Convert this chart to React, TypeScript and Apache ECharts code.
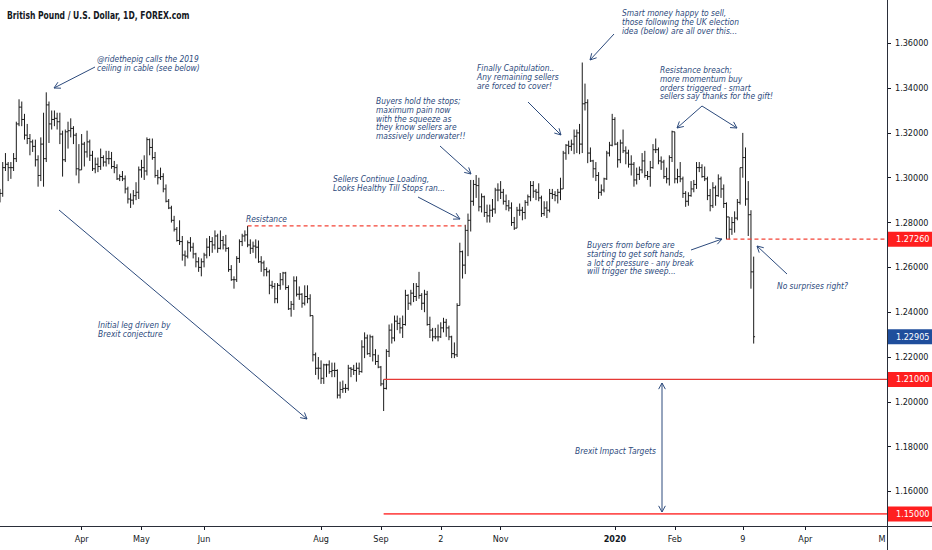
import React, { useEffect, useRef } from "react";
import * as echarts from "echarts";

// ---------- DATA (daily OHLC, GBP/USD) ----------
type Bar = [string, number, number, number, number];

const feb19: Bar[] = [
  ["2019-02-18", 1.29, 1.295, 1.289, 1.293],
  ["2019-02-19", 1.293, 1.307, 1.2915, 1.3045],
  ["2019-02-20", 1.3045, 1.311, 1.303, 1.306],
  ["2019-02-21", 1.306, 1.307, 1.2985, 1.3045],
  ["2019-02-22", 1.3045, 1.307, 1.2995, 1.3045],
  ["2019-02-25", 1.3045, 1.311, 1.303, 1.3085],
  ["2019-02-26", 1.3085, 1.325, 1.307, 1.324],
  ["2019-02-27", 1.324, 1.335, 1.323, 1.3315],
  ["2019-02-28", 1.3315, 1.334, 1.323, 1.326],
];
const mar19: Bar[] = [
  ["2019-03-01", 1.326, 1.3285, 1.317, 1.319],
  ["2019-03-04", 1.319, 1.324, 1.315, 1.3175],
  ["2019-03-05", 1.3175, 1.3195, 1.31, 1.316],
  ["2019-03-06", 1.316, 1.317, 1.3115, 1.314],
  ["2019-03-07", 1.314, 1.317, 1.305, 1.308],
  ["2019-03-08", 1.308, 1.31, 1.296, 1.301],
  ["2019-03-11", 1.301, 1.318, 1.2985, 1.315],
  ["2019-03-12", 1.315, 1.329, 1.296, 1.3085],
  ["2019-03-13", 1.3085, 1.3381, 1.307, 1.3325],
  ["2019-03-14", 1.3325, 1.334, 1.3155, 1.324],
  ["2019-03-15", 1.324, 1.33, 1.3215, 1.326],
  ["2019-03-18", 1.326, 1.33, 1.323, 1.3265],
  ["2019-03-19", 1.3265, 1.329, 1.3215, 1.325],
  ["2019-03-20", 1.325, 1.329, 1.315, 1.3195],
  ["2019-03-21", 1.3195, 1.321, 1.3005, 1.308],
  ["2019-03-22", 1.308, 1.3215, 1.307, 1.3205],
  ["2019-03-25", 1.3205, 1.325, 1.313, 1.321],
  ["2019-03-26", 1.321, 1.3265, 1.318, 1.322],
  ["2019-03-27", 1.322, 1.323, 1.315, 1.319],
  ["2019-03-28", 1.319, 1.32, 1.301, 1.304],
  ["2019-03-29", 1.304, 1.315, 1.2975, 1.3035],
];
const apr19: Bar[] = [
  ["2019-04-01", 1.3035, 1.3195, 1.3035, 1.315],
  ["2019-04-02", 1.315, 1.316, 1.305, 1.3115],
  ["2019-04-03", 1.3115, 1.321, 1.309, 1.316],
  ["2019-04-04", 1.316, 1.317, 1.3075, 1.31],
  ["2019-04-05", 1.31, 1.312, 1.303, 1.304],
  ["2019-04-08", 1.304, 1.309, 1.302, 1.306],
  ["2019-04-09", 1.306, 1.309, 1.3025, 1.305],
  ["2019-04-10", 1.305, 1.313, 1.3035, 1.309],
  ["2019-04-11", 1.309, 1.31, 1.305, 1.307],
  ["2019-04-12", 1.307, 1.312, 1.305, 1.3085],
  ["2019-04-15", 1.3085, 1.312, 1.306, 1.3085],
  ["2019-04-16", 1.3085, 1.3115, 1.304, 1.305],
  ["2019-04-17", 1.305, 1.3075, 1.302, 1.3045],
  ["2019-04-18", 1.3045, 1.306, 1.299, 1.2995],
  ["2019-04-19", 1.2995, 1.3015, 1.2985, 1.3005],
  ["2019-04-22", 1.3005, 1.303, 1.2985, 1.2995],
  ["2019-04-23", 1.2995, 1.301, 1.293, 1.295],
  ["2019-04-24", 1.295, 1.296, 1.2885, 1.2905],
  ["2019-04-25", 1.2905, 1.293, 1.2865, 1.29],
  ["2019-04-26", 1.29, 1.2945, 1.288, 1.292],
  ["2019-04-29", 1.292, 1.298, 1.29, 1.2935],
  ["2019-04-30", 1.2935, 1.305, 1.2905, 1.3035],
];
const may19: Bar[] = [
  ["2019-05-01", 1.3035, 1.308, 1.3, 1.3045],
  ["2019-05-02", 1.3045, 1.31, 1.299, 1.303],
  ["2019-05-03", 1.303, 1.318, 1.301, 1.317],
  ["2019-05-06", 1.317, 1.3175, 1.31, 1.3135],
  ["2019-05-07", 1.3135, 1.3175, 1.308, 1.309],
  ["2019-05-08", 1.309, 1.3115, 1.3, 1.301],
  ["2019-05-09", 1.301, 1.3035, 1.297, 1.3],
  ["2019-05-10", 1.3, 1.3045, 1.299, 1.3005],
  ["2019-05-13", 1.3005, 1.302, 1.2935, 1.295],
  ["2019-05-14", 1.295, 1.297, 1.289, 1.2895],
  ["2019-05-15", 1.2895, 1.2905, 1.286, 1.2865],
  ["2019-05-16", 1.2865, 1.2875, 1.28, 1.281],
  ["2019-05-17", 1.281, 1.283, 1.276, 1.277],
  ["2019-05-20", 1.277, 1.278, 1.2715, 1.272],
  ["2019-05-21", 1.272, 1.281, 1.27, 1.2715],
  ["2019-05-22", 1.2715, 1.274, 1.263, 1.2655],
  ["2019-05-23", 1.2655, 1.2675, 1.2605, 1.265],
  ["2019-05-24", 1.265, 1.272, 1.264, 1.271],
  ["2019-05-27", 1.271, 1.2735, 1.267, 1.269],
  ["2019-05-28", 1.269, 1.271, 1.264, 1.266],
  ["2019-05-29", 1.266, 1.2665, 1.26, 1.2625],
  ["2019-05-30", 1.2625, 1.2645, 1.258, 1.26],
  ["2019-05-31", 1.26, 1.264, 1.256, 1.2625],
];
const jun19: Bar[] = [
  ["2019-06-03", 1.2625, 1.2665, 1.26, 1.2655],
  ["2019-06-04", 1.2655, 1.273, 1.264, 1.269],
  ["2019-06-05", 1.269, 1.274, 1.265, 1.2715],
  ["2019-06-06", 1.2715, 1.2735, 1.2665, 1.27],
  ["2019-06-07", 1.27, 1.2765, 1.268, 1.274],
  ["2019-06-10", 1.274, 1.275, 1.2665, 1.2685],
  ["2019-06-11", 1.2685, 1.2765, 1.268, 1.272],
  ["2019-06-12", 1.272, 1.274, 1.268, 1.27],
  ["2019-06-13", 1.27, 1.2745, 1.267, 1.2685],
  ["2019-06-14", 1.2685, 1.269, 1.258, 1.259],
  ["2019-06-17", 1.259, 1.261, 1.254, 1.2545],
  ["2019-06-18", 1.2545, 1.256, 1.2505, 1.2545],
  ["2019-06-19", 1.2545, 1.265, 1.2535, 1.264],
  ["2019-06-20", 1.264, 1.2725, 1.262, 1.2715],
  ["2019-06-21", 1.2715, 1.275, 1.2695, 1.274],
  ["2019-06-24", 1.274, 1.2765, 1.2715, 1.2745],
  ["2019-06-25", 1.2745, 1.2785, 1.269, 1.27],
  ["2019-06-26", 1.27, 1.2725, 1.266, 1.2685],
  ["2019-06-27", 1.2685, 1.2715, 1.2665, 1.2695],
  ["2019-06-28", 1.2695, 1.2725, 1.264, 1.269],
];
const jul19: Bar[] = [
  ["2019-07-01", 1.269, 1.272, 1.262, 1.2625],
  ["2019-07-02", 1.2625, 1.265, 1.258, 1.262],
  ["2019-07-03", 1.262, 1.263, 1.256, 1.259],
  ["2019-07-04", 1.259, 1.26, 1.256, 1.258],
  ["2019-07-05", 1.258, 1.259, 1.248, 1.252],
  ["2019-07-08", 1.252, 1.254, 1.2505, 1.2515],
  ["2019-07-09", 1.2515, 1.253, 1.244, 1.246],
  ["2019-07-10", 1.246, 1.253, 1.244, 1.252],
  ["2019-07-11", 1.252, 1.2575, 1.25, 1.2545],
  ["2019-07-12", 1.2545, 1.258, 1.252, 1.2575],
  ["2019-07-15", 1.2575, 1.258, 1.25, 1.251],
  ["2019-07-16", 1.251, 1.252, 1.241, 1.2415],
  ["2019-07-17", 1.2415, 1.245, 1.238, 1.2435],
  ["2019-07-18", 1.2435, 1.256, 1.241, 1.254],
  ["2019-07-19", 1.254, 1.256, 1.247, 1.248],
  ["2019-07-22", 1.248, 1.2515, 1.2455, 1.248],
  ["2019-07-23", 1.248, 1.2485, 1.242, 1.244],
  ["2019-07-24", 1.244, 1.252, 1.243, 1.247],
  ["2019-07-25", 1.247, 1.252, 1.244, 1.246],
  ["2019-07-26", 1.246, 1.248, 1.238, 1.2385],
  ["2019-07-29", 1.2385, 1.2385, 1.218, 1.221],
  ["2019-07-30", 1.221, 1.222, 1.212, 1.215],
  ["2019-07-31", 1.215, 1.22, 1.21, 1.215],
];
const aug19: Bar[] = [
  ["2019-08-01", 1.215, 1.2185, 1.208, 1.2105],
  ["2019-08-02", 1.2105, 1.217, 1.208, 1.2165],
  ["2019-08-05", 1.2165, 1.217, 1.211, 1.2165],
  ["2019-08-06", 1.2165, 1.2185, 1.2125, 1.2135],
  ["2019-08-07", 1.2135, 1.2175, 1.211, 1.214],
  ["2019-08-08", 1.214, 1.2175, 1.211, 1.214],
  ["2019-08-09", 1.214, 1.2145, 1.2015, 1.203],
  ["2019-08-12", 1.203, 1.209, 1.2015, 1.2055],
  ["2019-08-13", 1.2055, 1.2095, 1.204, 1.206],
  ["2019-08-14", 1.206, 1.208, 1.204, 1.206],
  ["2019-08-15", 1.206, 1.2165, 1.205, 1.215],
  ["2019-08-16", 1.215, 1.2155, 1.211, 1.2145],
  ["2019-08-19", 1.2145, 1.2165, 1.212, 1.214],
  ["2019-08-20", 1.214, 1.2175, 1.209, 1.215],
  ["2019-08-21", 1.215, 1.2175, 1.212, 1.2135],
  ["2019-08-22", 1.2135, 1.2275, 1.213, 1.2245],
  ["2019-08-23", 1.2245, 1.231, 1.2195, 1.2285],
  ["2019-08-26", 1.2285, 1.23, 1.221, 1.2215],
  ["2019-08-27", 1.2215, 1.23, 1.22, 1.229],
  ["2019-08-28", 1.229, 1.2295, 1.218, 1.221],
  ["2019-08-29", 1.221, 1.2235, 1.2165, 1.218],
  ["2019-08-30", 1.218, 1.221, 1.215, 1.2155],
];
const sep19: Bar[] = [
  ["2019-09-02", 1.2155, 1.216, 1.207, 1.208],
  ["2019-09-03", 1.208, 1.21, 1.1959, 1.206],
  ["2019-09-04", 1.206, 1.2235, 1.2055, 1.2225],
  ["2019-09-05", 1.2225, 1.2345, 1.22, 1.232],
  ["2019-09-06", 1.232, 1.235, 1.226, 1.2285],
  ["2019-09-09", 1.2285, 1.2385, 1.227, 1.236],
  ["2019-09-10", 1.236, 1.2385, 1.232, 1.235],
  ["2019-09-11", 1.235, 1.2375, 1.2305, 1.233],
  ["2019-09-12", 1.233, 1.2385, 1.2285, 1.2345],
  ["2019-09-13", 1.2345, 1.25, 1.234, 1.2475],
  ["2019-09-16", 1.2475, 1.248, 1.241, 1.244],
  ["2019-09-17", 1.244, 1.25, 1.243, 1.2485],
  ["2019-09-18", 1.2485, 1.253, 1.2445, 1.247],
  ["2019-09-19", 1.247, 1.253, 1.245, 1.2515],
  ["2019-09-20", 1.2515, 1.258, 1.246, 1.2475],
  ["2019-09-23", 1.2475, 1.2485, 1.241, 1.244],
  ["2019-09-24", 1.244, 1.25, 1.24, 1.248],
  ["2019-09-25", 1.248, 1.2495, 1.234, 1.2345],
  ["2019-09-26", 1.2345, 1.238, 1.2285, 1.232],
  ["2019-09-27", 1.232, 1.233, 1.227, 1.229],
  ["2019-09-30", 1.229, 1.233, 1.228, 1.229],
];
const oct19: Bar[] = [
  ["2019-10-01", 1.229, 1.2345, 1.227, 1.229],
  ["2019-10-02", 1.229, 1.2355, 1.2285, 1.233],
  ["2019-10-03", 1.233, 1.2375, 1.231, 1.2355],
  ["2019-10-04", 1.2355, 1.237, 1.229, 1.233],
  ["2019-10-07", 1.233, 1.234, 1.2275, 1.229],
  ["2019-10-08", 1.229, 1.2295, 1.2195, 1.2215],
  ["2019-10-09", 1.2215, 1.2265, 1.2195, 1.221],
  ["2019-10-10", 1.221, 1.244, 1.22, 1.243],
  ["2019-10-11", 1.243, 1.271, 1.243, 1.267],
  ["2019-10-14", 1.267, 1.2675, 1.255, 1.261],
  ["2019-10-15", 1.261, 1.279, 1.257, 1.2765],
  ["2019-10-16", 1.2765, 1.284, 1.265, 1.281],
  ["2019-10-17", 1.281, 1.299, 1.276, 1.2895],
  ["2019-10-18", 1.2895, 1.299, 1.2875, 1.297],
  ["2019-10-21", 1.297, 1.3012, 1.291, 1.2965],
  ["2019-10-22", 1.2965, 1.3, 1.285, 1.287],
  ["2019-10-23", 1.287, 1.293, 1.2845, 1.2915],
  ["2019-10-24", 1.2915, 1.292, 1.2825, 1.2845],
  ["2019-10-25", 1.2845, 1.288, 1.28, 1.283],
  ["2019-10-28", 1.283, 1.288, 1.28, 1.2855],
  ["2019-10-29", 1.2855, 1.2905, 1.2825, 1.286],
  ["2019-10-30", 1.286, 1.2955, 1.284, 1.2945],
  ["2019-10-31", 1.2945, 1.2975, 1.2895, 1.2945],
];
const nov19: Bar[] = [
  ["2019-11-01", 1.2945, 1.2985, 1.2905, 1.2935],
  ["2019-11-04", 1.2935, 1.295, 1.288, 1.2895],
  ["2019-11-05", 1.2895, 1.2925, 1.2855, 1.2875],
  ["2019-11-06", 1.2875, 1.29, 1.285, 1.2865],
  ["2019-11-07", 1.2865, 1.289, 1.2785, 1.28],
  ["2019-11-08", 1.28, 1.2825, 1.2767, 1.2775],
  ["2019-11-11", 1.2775, 1.287, 1.2775, 1.2855],
  ["2019-11-12", 1.2855, 1.2885, 1.283, 1.2855],
  ["2019-11-13", 1.2855, 1.287, 1.281, 1.2845],
  ["2019-11-14", 1.2845, 1.29, 1.2815, 1.289],
  ["2019-11-15", 1.289, 1.2925, 1.2875, 1.2915],
  ["2019-11-18", 1.2915, 1.2985, 1.2895, 1.2965],
  ["2019-11-19", 1.2965, 1.2985, 1.291, 1.294],
  ["2019-11-20", 1.294, 1.295, 1.29, 1.2935],
  ["2019-11-21", 1.2935, 1.2975, 1.2895, 1.291],
  ["2019-11-22", 1.291, 1.292, 1.2825, 1.284],
  ["2019-11-25", 1.284, 1.2895, 1.283, 1.2865],
  ["2019-11-26", 1.2865, 1.2895, 1.282, 1.2855],
  ["2019-11-27", 1.2855, 1.295, 1.2845, 1.293],
  ["2019-11-28", 1.293, 1.295, 1.2905, 1.2925],
  ["2019-11-29", 1.2925, 1.294, 1.2895, 1.292],
];
const dec19: Bar[] = [
  ["2019-12-02", 1.292, 1.295, 1.2885, 1.2935],
  ["2019-12-03", 1.2935, 1.3, 1.29, 1.295],
  ["2019-12-04", 1.295, 1.312, 1.295, 1.311],
  ["2019-12-05", 1.311, 1.315, 1.308, 1.3145],
  ["2019-12-06", 1.3145, 1.3165, 1.3105, 1.314],
  ["2019-12-09", 1.314, 1.317, 1.312, 1.315],
  ["2019-12-10", 1.315, 1.3215, 1.3105, 1.3185],
  ["2019-12-11", 1.3185, 1.3215, 1.311, 1.32],
  ["2019-12-12", 1.32, 1.324, 1.3105, 1.315],
  ["2019-12-13", 1.315, 1.3514, 1.311, 1.333],
  ["2019-12-16", 1.333, 1.342, 1.33, 1.3335],
  ["2019-12-17", 1.3335, 1.335, 1.3065, 1.311],
  ["2019-12-18", 1.311, 1.3135, 1.307, 1.3075],
  ["2019-12-19", 1.3075, 1.308, 1.3, 1.304],
  ["2019-12-20", 1.304, 1.307, 1.2985, 1.301],
  ["2019-12-23", 1.301, 1.3025, 1.2905, 1.2935],
  ["2019-12-24", 1.2935, 1.297, 1.292, 1.2945],
  ["2019-12-26", 1.2945, 1.3, 1.2935, 1.2995],
  ["2019-12-27", 1.2995, 1.312, 1.299, 1.311],
  ["2019-12-30", 1.311, 1.316, 1.3095, 1.3145],
  ["2019-12-31", 1.3145, 1.3285, 1.314, 1.326],
];
const jan20: Bar[] = [
  ["2020-01-02", 1.326, 1.327, 1.3145, 1.315],
  ["2020-01-03", 1.315, 1.316, 1.3045, 1.308],
  ["2020-01-06", 1.308, 1.317, 1.3065, 1.3155],
  ["2020-01-07", 1.3155, 1.3215, 1.311, 1.312],
  ["2020-01-08", 1.312, 1.314, 1.306, 1.311],
  ["2020-01-09", 1.311, 1.3125, 1.3045, 1.306],
  ["2020-01-10", 1.306, 1.31, 1.301, 1.306],
  ["2020-01-13", 1.306, 1.307, 1.296, 1.299],
  ["2020-01-14", 1.299, 1.3045, 1.297, 1.3015],
  ["2020-01-15", 1.3015, 1.305, 1.299, 1.3035],
  ["2020-01-16", 1.3035, 1.311, 1.302, 1.3075],
  ["2020-01-17", 1.3075, 1.312, 1.3, 1.301],
  ["2020-01-20", 1.301, 1.303, 1.299, 1.3005],
  ["2020-01-21", 1.3005, 1.3075, 1.296, 1.3045],
  ["2020-01-22", 1.3045, 1.315, 1.304, 1.3125],
  ["2020-01-23", 1.3125, 1.3175, 1.311, 1.3125],
  ["2020-01-24", 1.3125, 1.3135, 1.306, 1.3075],
  ["2020-01-27", 1.3075, 1.3095, 1.3035, 1.307],
  ["2020-01-28", 1.307, 1.308, 1.2995, 1.3005],
  ["2020-01-29", 1.3005, 1.3045, 1.2975, 1.2995],
  ["2020-01-30", 1.2995, 1.31, 1.2965, 1.309],
  ["2020-01-31", 1.309, 1.321, 1.307, 1.3205],
];
const feb20: Bar[] = [
  ["2020-02-03", 1.3205, 1.3205, 1.2975, 1.2995],
  ["2020-02-04", 1.2995, 1.304, 1.2975, 1.3005],
  ["2020-02-05", 1.3005, 1.307, 1.298, 1.2995],
  ["2020-02-06", 1.2995, 1.3005, 1.291, 1.293],
  ["2020-02-07", 1.293, 1.294, 1.287, 1.2895],
  ["2020-02-10", 1.2895, 1.2935, 1.2875, 1.292],
  ["2020-02-11", 1.292, 1.2985, 1.2915, 1.295],
  ["2020-02-12", 1.295, 1.299, 1.2935, 1.297],
  ["2020-02-13", 1.297, 1.307, 1.295, 1.3045],
  ["2020-02-14", 1.3045, 1.307, 1.3025, 1.3045],
  ["2020-02-17", 1.3045, 1.306, 1.3, 1.3005],
  ["2020-02-18", 1.3005, 1.305, 1.2985, 1.2995],
  ["2020-02-19", 1.2995, 1.3005, 1.29, 1.292],
  ["2020-02-20", 1.292, 1.295, 1.285, 1.2875],
  ["2020-02-21", 1.2875, 1.298, 1.2865, 1.2955],
  ["2020-02-24", 1.2955, 1.2965, 1.2875, 1.292],
  ["2020-02-25", 1.292, 1.3015, 1.2915, 1.2995],
  ["2020-02-26", 1.2995, 1.3005, 1.291, 1.295],
  ["2020-02-27", 1.295, 1.297, 1.2865, 1.2885],
  ["2020-02-28", 1.2885, 1.289, 1.2725, 1.2825],
];
const mar20: Bar[] = [
  ["2020-03-02", 1.2825, 1.2825, 1.2725, 1.277],
  ["2020-03-03", 1.277, 1.2825, 1.2745, 1.28],
  ["2020-03-04", 1.28, 1.285, 1.2755, 1.282],
  ["2020-03-05", 1.282, 1.2905, 1.281, 1.289],
  ["2020-03-06", 1.289, 1.3045, 1.288, 1.3045],
  ["2020-03-09", 1.3045, 1.32, 1.3, 1.309],
  ["2020-03-10", 1.309, 1.3135, 1.2875, 1.2905],
  ["2020-03-11", 1.2905, 1.2985, 1.274, 1.2835],
  ["2020-03-12", 1.2835, 1.2855, 1.2505, 1.258],
  ["2020-03-13", 1.258, 1.2648, 1.226, 1.22905],
];

const bars: Bar[] = [
  ...feb19, ...mar19, ...apr19, ...may19, ...jun19, ...jul19, ...aug19,
  ...sep19, ...oct19, ...nov19, ...dec19, ...jan20, ...feb20, ...mar20,
];

// time-scale labels (TradingView style)
const timeTickDates = [
  "2019-04-01", "2019-05-01", "2019-06-03", "2019-08-01", "2019-09-02", "2019-10-02",
  "2019-11-01", "2020-01-02", "2020-02-03", "2020-03-09", "2020-04-01", "2020-05-01",
];
const timeTickLabels = ["Apr", "May", "Jun", "Aug", "Sep", "2", "Nov", "2020", "Feb", "9", "Apr", "M"];

// price-scale labels
const priceTicks = [1.16, 1.18, 1.2, 1.22, 1.24, 1.26, 1.28, 1.3, 1.32, 1.34, 1.36];

// levels drawn on the chart
const resistanceLevel = 1.2785;
const resistanceFrom = "2019-06-25";
const resistanceTo = "2019-10-15";
const breakLevel = 1.2726;
const breakFrom = "2020-02-28";
const target1 = 1.21;
const target2 = 1.15;
const targetsFrom = "2019-09-03";
const lastClose = 1.22905;

const Y_MIN = 1.1446;
const Y_MAX = 1.3793;
const FUTURE_END = "2020-05-01";

// ---------- helpers ----------
const FONT = "'DejaVu Sans Condensed', 'DejaVu Sans', sans-serif";
const INK = "#131722";
const NOTE = "#2c4a7c";
const BAR = "#1a1a1a";
const NOTE_SCALE = 0.93;

function buildCategories(): string[] {
  const cats = bars.map((b) => b[0]);
  const last = new Date(bars[bars.length - 1][0] + "T00:00:00Z");
  const end = new Date(FUTURE_END + "T00:00:00Z");
  const d = new Date(last.getTime());
  while (d < end) {
    d.setUTCDate(d.getUTCDate() + 1);
    cats.push(d.toISOString().slice(0, 10));
  }
  return cats;
}

function arrow(x1: number, y1: number, x2: number, y2: number, both = false): any[] {
  const head = 7;
  const spread = 0.5;
  const mk = (ax: number, ay: number, bx: number, by: number) => {
    const a = Math.atan2(by - ay, bx - ax);
    return {
      type: "polyline",
      shape: {
        points: [
          [bx - head * Math.cos(a - spread), by - head * Math.sin(a - spread)],
          [bx, by],
          [bx - head * Math.cos(a + spread), by - head * Math.sin(a + spread)],
        ],
      },
      style: { stroke: NOTE, lineWidth: 1, fill: null },
      z: 50,
    };
  };
  const els: any[] = [
    { type: "line", shape: { x1, y1, x2, y2 }, style: { stroke: NOTE, lineWidth: 1 }, z: 50 },
    mk(x1, y1, x2, y2),
  ];
  if (both) els.push(mk(x2, y2, x1, y1));
  return els;
}

function note(text: string, x: number, firstCenter: number): any {
  return {
    type: "text",
    x,
    y: firstCenter - 4.4,
    scaleX: NOTE_SCALE,
    z: 50,
    style: {
      text,
      fill: NOTE,
      fontSize: 9,
      fontStyle: "italic",
      fontFamily: FONT,
      lineHeight: 8.8,
      align: "left",
      verticalAlign: "top",
    },
  };
}

export default function App() {
  const ref = useRef<HTMLDivElement>(null);

  useEffect(() => {
    document.body.style.margin = "0";
    if (!ref.current) return;
    const chart = echarts.init(ref.current, undefined, { renderer: "svg" });
    const categories = buildCategories();
    const tickMap: Record<string, string> = {};
    timeTickDates.forEach((d, i) => (tickMap[d] = timeTickLabels[i]));
    const showTick = (_i: number, v: string) => v in tickMap;

    const ohlc = bars.map((b, i) => [i, b[1], b[2], b[3], b[4]]);

    const option: any = {
      animation: false,
      grid: { left: 0, right: 45, top: 0, bottom: 24, containLabel: false },
      xAxis: {
        type: "category",
        data: categories,
        boundaryGap: false,
        axisLine: { show: false },
        axisTick: { show: true, interval: showTick, length: 4, lineStyle: { color: INK } },
        axisLabel: {
          interval: showTick,
          margin: 8,
          color: INK,
          fontSize: 9,
          fontFamily: FONT,
          formatter: (v: string) => {
            const t = tickMap[v] || "";
            if (t === "2020") return "{b|2020}";
            if (t === "M") return "{m|M}";
            return t;
          },
          rich: {
            b: { fontWeight: "bold", fontSize: 9, fontFamily: FONT, color: INK },
            m: { fontSize: 9, fontFamily: FONT, color: INK, padding: [0, 10, 0, 0] },
          },
        },
        splitLine: { show: false },
      },
      yAxis: {
        type: "value",
        position: "right",
        min: Y_MIN,
        max: Y_MAX,
        scale: true,
        axisLine: { show: false },
        axisTick: { show: true, length: 4, customValues: priceTicks, lineStyle: { color: INK } },
        axisLabel: {
          customValues: priceTicks,
          margin: 8,
          color: INK,
          fontSize: 9,
          fontFamily: FONT,
          formatter: (v: number) => v.toFixed(5),
        },
        splitLine: { show: false },
      },
      series: [
        {
          type: "custom",
          data: ohlc,
          encode: { x: 0, y: [1, 2, 3, 4] },
          clip: true,
          renderItem: (_p: any, api: any) => {
            const x = api.value(0);
            const ph = api.coord([x, api.value(2)]);
            const pl = api.coord([x, api.value(3)]);
            const po = api.coord([x, api.value(1)]);
            const pc = api.coord([x, api.value(4)]);
            const px = ph[0];
            const t = 1.4;
            const st = { stroke: BAR, lineWidth: 1 };
            return {
              type: "group",
              children: [
                { type: "line", shape: { x1: px, y1: ph[1], x2: px, y2: pl[1] }, style: st },
                { type: "line", shape: { x1: px - t, y1: po[1], x2: px, y2: po[1] }, style: st },
                { type: "line", shape: { x1: px, y1: pc[1], x2: px + t, y2: pc[1] }, style: st },
              ],
            };
          },
        },
      ],
    };
    chart.setOption(option);

    const yPx = (v: number) => chart.convertToPixel({ yAxisIndex: 0 }, v) as number;
    const xPx = (d: string) => chart.convertToPixel({ xAxisIndex: 0 }, d) as number;
    const xEnd = xPx(FUTURE_END);

    const level = (from: string, v: number, toX: number, color: string, width: number, dash?: number[]) => {
      const y = yPx(v);
      return {
        type: "line",
        z: 30,
        shape: { x1: xPx(from), y1: y, x2: toX, y2: y },
        style: { stroke: color, lineWidth: width, lineDash: dash || null },
      };
    };

    const priceBox = (v: number, bg: string) => {
      const yc = yPx(v);
      return [
        { type: "rect", shape: { x: 888, y: yc - 7.5, width: 44, height: 15 }, style: { fill: bg }, z: 60 },
        {
          type: "text",
          x: 896,
          y: yc,
          z: 61,
          style: {
            text: v.toFixed(5),
            fill: "#ffffff",
            fontSize: 9,
            fontFamily: FONT,
            align: "left",
            verticalAlign: "middle",
          },
        },
      ];
    };

    const graphic: any[] = [
      {
        type: "text",
        x: 7,
        y: 15,
        scaleX: 0.77,
        z: 50,
        style: {
          text: "British Pound / U.S. Dollar, 1D, FOREX.com",
          fill: INK,
          fontSize: 11,
          fontWeight: "bold",
          fontFamily: FONT,
          align: "left",
          verticalAlign: "middle",
        },
      },
      { type: "line", shape: { x1: 0, y1: 526.5, x2: 932, y2: 526.5 }, style: { stroke: "#2a2e39", lineWidth: 1 }, z: 40 },
      { type: "line", shape: { x1: 887.5, y1: 0, x2: 887.5, y2: 550 }, style: { stroke: "#2a2e39", lineWidth: 1 }, z: 40 },

      level(resistanceFrom, resistanceLevel, xPx(resistanceTo), "#f44336", 1.2, [4, 3]),
      level(breakFrom, breakLevel, xEnd, "#f44336", 1.2, [4, 3]),
      level(targetsFrom, target1, xEnd, "#e53935", 1.2),
      level(targetsFrom, target2, xEnd, "#ff5252", 1.6),

      ...priceBox(breakLevel, "#ff1f1f"),
      ...priceBox(lastClose, "#1f4e9c"),
      ...priceBox(target1, "#ff1f1f"),
      ...priceBox(target2, "#ff1f1f"),

      note("@ridethepig calls the 2019\nceiling in cable (see below)", 97, 59),
      ...arrow(95, 67, 54, 88),
      note("Initial leg driven by\nBrexit conjecture", 98, 325),
      ...arrow(59, 210, 307, 419),
      note("Resistance", 246, 219),
      note("Sellers Continue Loading,\nLooks Healthy Till Stops ran...", 333, 179),
      ...arrow(418, 197, 460, 219),
      note("Buyers hold the stops;\nmaximum pain now\nwith the squeeze as\nthey know sellers are\nmassively underwater!!", 376, 101),
      ...arrow(440, 146, 471, 174),
      note("Finally Capitulation..\nAny remaining sellers\nare forced to cover!", 477, 68),
      ...arrow(528, 102, 561, 135),
      note("Smart money happy to sell,\nthose following the UK election\nidea (below) are all over this...", 622, 13),
      ...arrow(614, 34, 590, 60),
      note("Resistance breach;\nmore momentum buy\norders triggered - smart\nsellers say thanks for the gift!", 660, 70),
      ...arrow(702, 106, 677, 128),
      ...arrow(702, 106, 737, 128),
      note("Buyers from before are\nstarting to get soft hands,\na lot of pressure - any break\nwill trigger the sweep...", 587, 245),
      ...arrow(691, 250, 722, 239),
      note("No surprises right?", 777, 286),
      ...arrow(787, 274, 757, 246),
      note("Brexit Impact Targets", 575, 451),
      ...arrow(662, 383, 662, 512, true),
    ];
    chart.setOption({ graphic });

    return () => chart.dispose();
  }, []);

  return <div ref={ref} style={{ width: 932, height: 550 }} />;
}
